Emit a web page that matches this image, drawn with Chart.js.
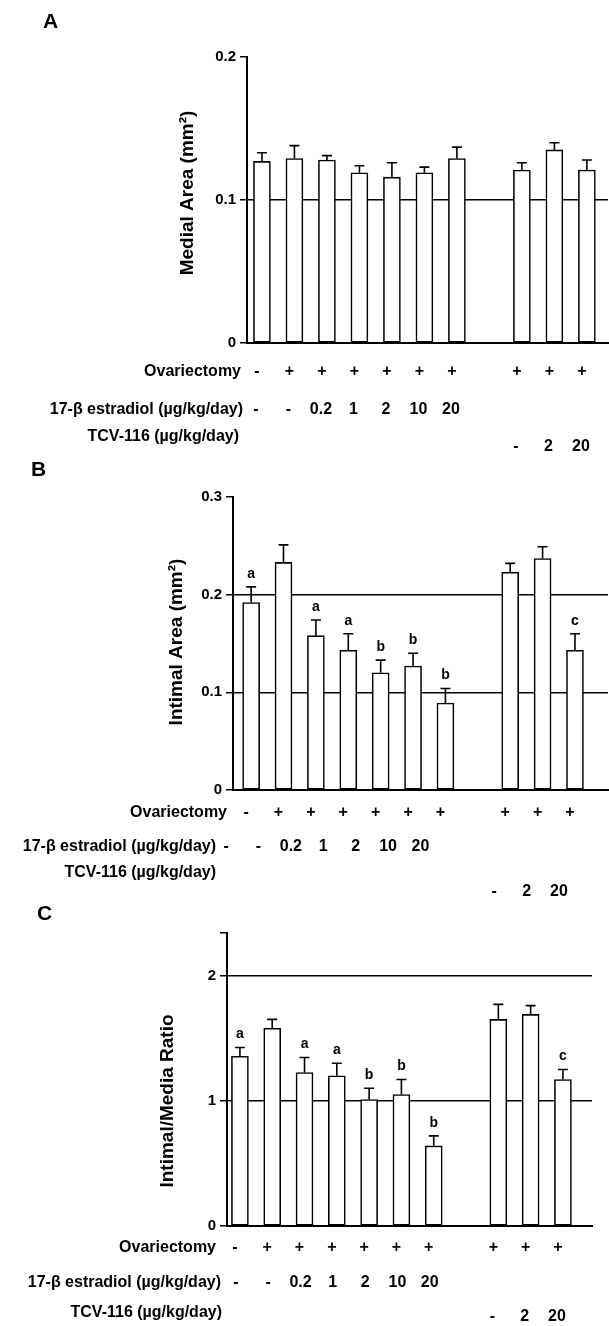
<!DOCTYPE html>
<html>
<head>
<meta charset="utf-8">
<script src="https://cdn.jsdelivr.net/npm/chart.js@4.4.1/dist/chart.umd.min.js"></script>
<style>
  html, body { margin: 0; padding: 0; background: #fff; }
  #wrap { position: relative; width: 609px; height: 1326px; }
  canvas { position: absolute; left: 0; }
</style>
</head>
<body>
<div id="wrap">
  <canvas id="panelA" width="609" height="460" style="top:0px"></canvas>
  <canvas id="panelB" width="609" height="440" style="top:460px"></canvas>
  <canvas id="panelC" width="609" height="426" style="top:900px"></canvas>
</div>
<script>
// group slots on the x axis (slot 7 is the empty gap)
const slots = [0, 1, 2, 3, 4, 5, 6, 8, 9, 10];
const ovxRow = ['-', '+', '+', '+', '+', '+', '+', '+', '+', '+'];
const estradiolRow = ['-', '-', '0.2', '1', '2', '10', '20', '', '', ''];
const tcvRow = ['', '', '', '', '', '', '', '-', '2', '20'];

// A: medial area (mm2)
const medialMean = [0.127, 0.129, 0.128, 0.119, 0.116, 0.119, 0.129, 0.121, 0.135, 0.121];
const medialSem  = [0.006, 0.009, 0.003, 0.005, 0.010, 0.004, 0.008, 0.005, 0.005, 0.007];
const medialTicks = [0, 0.1, 0.2];
const medialTickLabels = ['0', '0.1', '0.2'];

// B: intimal area (mm2)
const intimalMean = [0.192, 0.233, 0.158, 0.143, 0.120, 0.127, 0.089, 0.223, 0.237, 0.143];
const intimalSem  = [0.016, 0.018, 0.016, 0.017, 0.013, 0.013, 0.015, 0.009, 0.012, 0.017];
const intimalMarks = ['a', '', 'a', 'a', 'b', 'b', 'b', '', '', 'c'];
const intimalTicks = [0, 0.1, 0.2, 0.3];
const intimalTickLabels = ['0', '0.1', '0.2', '0.3'];

// C: intimal/media ratio
const ratioMean = [1.355, 1.58, 1.226, 1.20, 1.01, 1.05, 0.64, 1.65, 1.69, 1.17];
const ratioSem  = [0.07, 0.07, 0.12, 0.10, 0.09, 0.12, 0.08, 0.12, 0.07, 0.08];
const ratioMarks = ['a', '', 'a', 'a', 'b', 'b', 'b', '', '', 'c'];
const ratioTicks = [0, 1, 2, 2.34];
const ratioTickLabels = ['0', '1', '2', ''];

const FONT = '"Liberation Sans", Arial, Helvetica, sans-serif';

const decor = {
    id: 'decor',
    afterDatasetsDraw(chart, args, opts) {
        const ctx = chart.ctx;
        const y = chart.scales.y;
        const meta = chart.getDatasetMeta(0);
        ctx.save();
        ctx.strokeStyle = '#000';
        ctx.fillStyle = '#000';
        ctx.lineWidth = 1.6;
        ctx.font = 'bold 14px ' + FONT;
        ctx.textAlign = 'center';
        ctx.textBaseline = 'middle';
        meta.data.forEach((bar, i) => {
            const top = y.getPixelForValue(opts.mean[i] + opts.sem[i]);
            ctx.beginPath();
            ctx.moveTo(bar.x, bar.y);
            ctx.lineTo(bar.x, top);
            ctx.moveTo(bar.x - 5, top);
            ctx.lineTo(bar.x + 5, top);
            ctx.stroke();
            if (opts.marks && opts.marks[i]) {
                ctx.fillText(opts.marks[i], bar.x, top - 13);
            }
        });
        ctx.restore();
    },
    afterDraw(chart, args, opts) {
        const ctx = chart.ctx;
        const x = chart.scales.x;
        ctx.save();
        ctx.fillStyle = '#000';
        // panel letter
        ctx.font = 'bold 21px ' + FONT;
        ctx.textAlign = 'left';
        ctx.textBaseline = 'middle';
        ctx.fillText(opts.letter, opts.letterPos[0], opts.letterPos[1]);
        // y title
        ctx.save();
        ctx.translate(opts.titlePos[0], opts.titlePos[1]);
        ctx.rotate(-Math.PI / 2);
        ctx.font = 'bold 19px ' + FONT;
        ctx.textAlign = 'center';
        ctx.fillText(opts.title, 0, 0);
        ctx.restore();
        // treatment rows
        const rows = [
            { label: 'Ovariectomy', vals: ovxRow, ly: opts.rowY[0], vy: opts.rowY[0] },
            { label: '17-\u03b2 estradiol (\u00b5g/kg/day)', vals: estradiolRow, ly: opts.rowY[1], vy: opts.rowY[1] },
            { label: 'TCV-116 (\u00b5g/kg/day)', vals: tcvRow, ly: opts.rowY[2], vy: opts.rowY[3] }
        ];
        ctx.font = 'bold 16px ' + FONT;
        rows.forEach((r, k) => {
            ctx.textAlign = 'right';
            ctx.fillText(r.label, opts.labelEnd[k], r.ly);
            ctx.textAlign = 'center';
            r.vals.forEach((v, i) => {
                if (!v) return;
                const px = x.getPixelForValue(slots[i]) + opts.valueDx[k];
                ctx.fillText(v, px, r.vy);
            });
        });
        ctx.restore();
    }
};

function makePanel(id, mean, sem, marks, ticks, tickLabels, lay) {
    const max = ticks[ticks.length - 1];
    return new Chart(document.getElementById(id), {
        type: 'bar',
        plugins: [decor],
        data: {
            datasets: [{
                data: slots.map((s, i) => ({ x: s, y: mean[i] })),
                backgroundColor: '#fff',
                borderColor: '#000',
                borderWidth: 1.6,
                borderSkipped: false,
                barThickness: 17
            }]
        },
        options: {
            responsive: false,
            animation: false,
            devicePixelRatio: 1,
            layout: { padding: { top: lay.padTop, right: lay.padRight, bottom: lay.padBottom, left: 0 } },
            plugins: {
                legend: { display: false },
                tooltip: { enabled: false },
                decor: Object.assign({ mean: mean, sem: sem, marks: marks }, lay)
            },
            scales: {
                x: {
                    type: 'linear',
                    offset: false,
                    min: lay.xMin,
                    max: lay.xMax,
                    afterFit: s => { s.height = 0; },
                    ticks: { display: false },
                    grid: { display: false, drawTicks: false },
                    border: { color: '#000', width: 2 }
                },
                y: {
                    min: 0,
                    max: max,
                    afterBuildTicks: s => { s.ticks = ticks.map(v => ({ value: v })); },
                    afterFit: s => { s.width = lay.axisX; },
                    ticks: {
                        callback: (v, i) => tickLabels[i],
                        color: '#000',
                        padding: 4,
                        font: { family: FONT, size: 15, weight: 'bold' }
                    },
                    grid: {
                        color: c => (c.tick && c.tick.value > 0 && c.tick.value < max) ? '#000' : 'rgba(0,0,0,0)',
                        tickColor: '#000',
                        tickLength: 7,
                        lineWidth: 1.5
                    },
                    border: { color: '#000', width: 2 }
                }
            }
        }
    });
}

makePanel('panelA', medialMean, medialSem, null, medialTicks, medialTickLabels, {
    axisX: 247, padTop: 57, padRight: 1, padBottom: 117, xMin: -0.46, xMax: 10.65,
    letter: 'A', letterPos: [43, 22], title: 'Medial Area (mm\u00b2)', titlePos: [188, 193],
    rowY: [372, 410, 437, 447], labelEnd: [241, 243, 239], valueDx: [-5, -6, -6]
});
makePanel('panelB', intimalMean, intimalSem, intimalMarks, intimalTicks, intimalTickLabels, {
    axisX: 233, padTop: 37, padRight: 1, padBottom: 110, xMin: -0.56, xMax: 11.02,
    letter: 'B', letterPos: [31, 10], title: 'Intimal Area (mm\u00b2)', titlePos: [177, 182],
    rowY: [353, 387, 413, 432], labelEnd: [227, 216, 216], valueDx: [-5, -25, -16]
});
makePanel('panelC', ratioMean, ratioSem, ratioMarks, ratioTicks, ratioTickLabels, {
    axisX: 227, padTop: 33, padRight: 17, padBottom: 100, xMin: -0.40, xMax: 10.9,
    letter: 'C', letterPos: [37, 14], title: 'Intimal/Media Ratio', titlePos: [168, 201],
    rowY: [348, 383, 413, 417], labelEnd: [216, 221, 222], valueDx: [-5, -4, -6]
});
</script>
</body>
</html>
